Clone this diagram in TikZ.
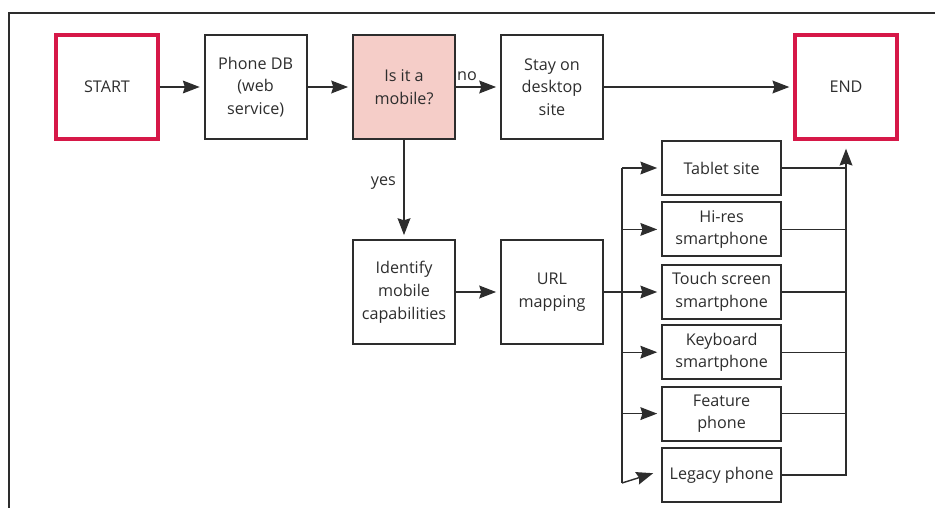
\documentclass[tikz,border=0pt]{standalone}
\usepackage{fontspec}
\setmainfont{Open Sans}
\usetikzlibrary{arrows.meta}
\definecolor{flred}{RGB}{214,24,72}
\definecolor{flpink}{RGB}{245,205,200}
\definecolor{flgray}{RGB}{45,45,45}

\begin{document}
\begin{tikzpicture}[
  every node/.style={font=\fontsize{11.5}{16.2}\selectfont,text=flgray},
  bx/.style={draw=flgray,line width=1.3pt,minimum width=2.55cm,minimum height=2.6cm,align=center,inner sep=2pt},
  term/.style={bx,draw=flred,line width=2.4pt},
  dev/.style={draw=flgray,line width=1.3pt,minimum width=2.975cm,minimum height=1.35cm,align=center,inner sep=1pt},
  ln/.style={flgray,line width=1pt},
  arr/.style={ln,-{Stealth[length=0.42cm,width=0.32cm,inset=0.05cm]},shorten >=0.1cm}
]
\useasboundingbox (0,0) rectangle (23.375,-12.7);

% Frame
\draw[flgray,line width=1.3pt] (23.375,-0.325) -- (0.225,-0.325) -- (0.225,-12.7);

% Top row
\node[term] (start) at (2.675,-2.175) {START};
\node[bx] (db) at (6.39,-2.175) {Phone DB\\(web\\service)};
\node[bx,fill=flpink] (mob) at (10.1,-2.175) {Is it a\\mobile?};
\node[bx] (stay) at (13.8,-2.175) {Stay on\\desktop\\site};
\node[term] (end) at (21.15,-2.175) {END};

% Mobile branch
\node[bx] (ident) at (10.1,-7.3) {Identify\\mobile\\capabilities};
\node[bx] (url) at (13.8,-7.3) {URL\\mapping};

% Sites
\node[dev] (tab) at (18.04,-4.2) {Tablet site};
\node[dev] (hires) at (18.04,-5.735) {Hi-res\\smartphone};
\node[dev] (touch) at (18.04,-7.3) {Touch screen\\smartphone};
\node[dev] (keyb) at (18.04,-8.805) {Keyboard\\smartphone};
\node[dev] (feat) at (18.04,-10.34) {Feature\\phone};
\node[dev] (leg) at (18.04,-11.875) {Legacy phone};

\draw[arr] (start) -- (db);
\draw[arr] (db) -- (mob);
\draw[arr] (mob) -- (stay) node[pos=0.25,above,yshift=1pt] {no};
\draw[arr] (stay) -- (end);
\draw[arr] (mob) -- (ident) node[pos=0.43,left,xshift=-2pt] {yes};
\draw[arr] (ident) -- (url);

% Left bus
\coordinate (bt) at (15.55,-4.2);
\coordinate (bb) at (15.55,-12.075);
\draw[ln] (bt) -- (bb);
\draw[arr] (bt) -- (tab);
\draw[arr] (hires.west -| bb) -- (hires);
\draw[arr] (url) -- (touch);
\draw[arr] (keyb.west -| bb) -- (keyb);
\draw[arr] (feat.west -| bb) -- (feat);
\draw[arr] (bb) -- (16.425,-11.8);

% Right bus
\draw[ln] (tab) -- (tab.east -| end);
\draw[ln] (hires) -- (hires.east -| end);
\draw[ln] (touch) -- (touch.east -| end);
\draw[ln] (keyb) -- (keyb.east -| end);
\draw[ln] (feat) -- (feat.east -| end);
\draw[arr,shorten >=0.2cm] (leg) -- (leg.east -| end) -- (end);
\end{tikzpicture}
\end{document}
